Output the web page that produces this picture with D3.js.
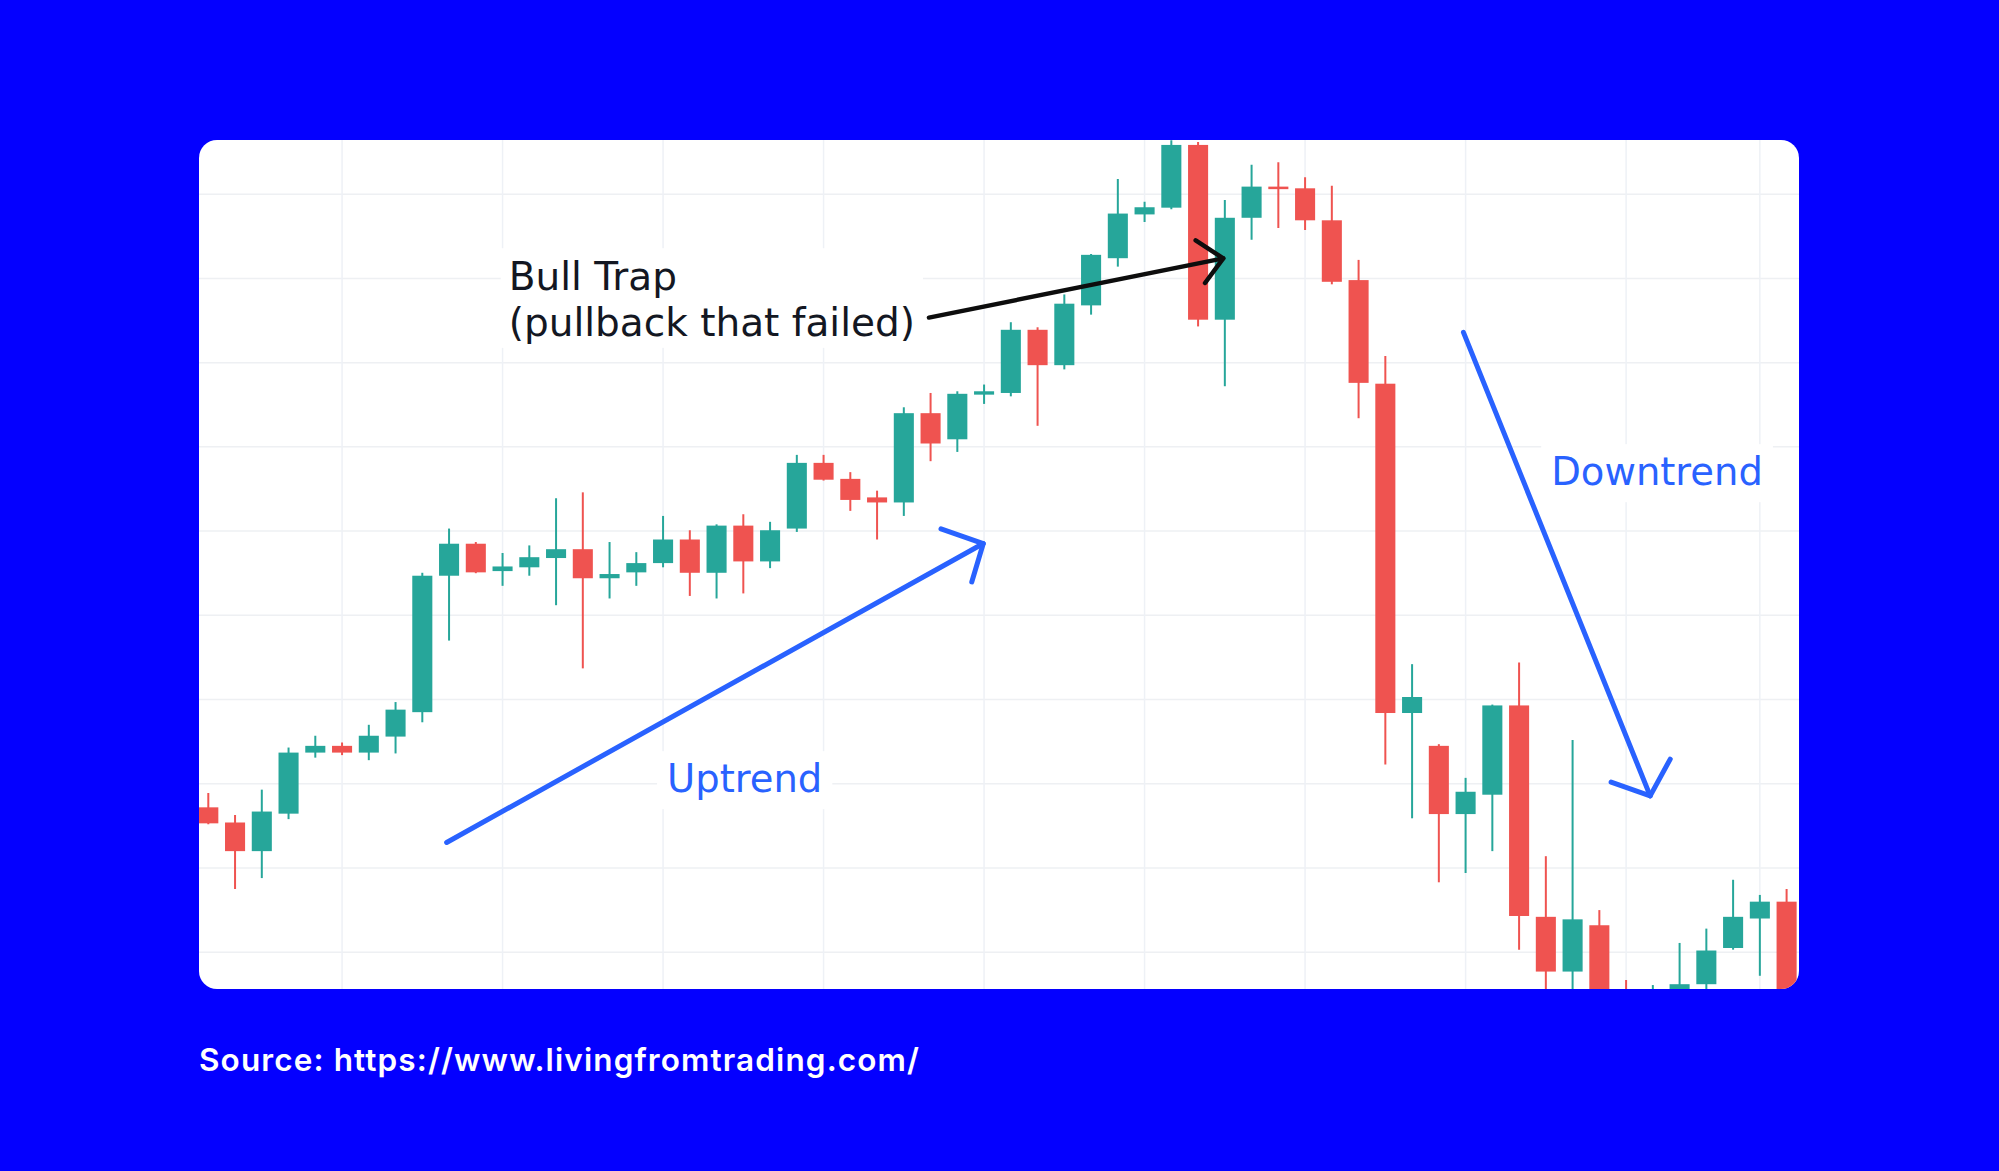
<!DOCTYPE html>
<html>
<head>
<meta charset="utf-8">
<script src="https://cdn.jsdelivr.net/npm/d3@7"></script>
<style>
  html, body { margin: 0; padding: 0; background: #0400ff; }
  svg { display: block; }
</style>
</head>
<body>
<svg id="chart" width="1999" height="1171"></svg>
<script>
// ---------- DATA ----------
const candleIndex = d3.range(60);
const openP  = [117.2,115.4,112.0,116.45,123.7,124.5,123.7,125.6,128.5,144.7,
                148.5,145.25,145.7,146.8,147.85,144.4,145.1,146.2,149.0,145.05,
                150.65,146.4,150.3,158.1,156.2,154.0,153.4,164.0,160.9,166.2,
                166.4,173.9,169.7,176.8,182.4,187.6,188.4,195.85,175.1,187.2,
                190.9,190.7,186.9,179.8,167.5,128.4,124.5,116.4,118.7,129.3,
                104.2,97.7,103.2,95.2,93.8,94.2,96.2,100.5,104.0,106.0];
const highP  = [118.9,116.3,119.3,124.3,125.7,124.9,127.0,129.7,145.05,150.3,
                148.7,147.4,148.3,153.9,154.6,148.7,147.5,151.8,150.1,150.8,
                152.0,151.1,159.05,159.05,157.0,154.8,164.7,166.4,166.6,167.4,
                174.8,174.2,178.1,182.9,191.8,189.1,196.4,196.2,189.3,193.5,
                193.8,192.0,191.0,182.2,170.8,134.2,124.7,120.7,129.4,134.4,
                111.4,125.2,105.0,96.7,96.1,101.1,102.8,108.6,106.8,107.5];
const lowP   = [115.2,107.5,108.8,115.8,123.1,123.4,122.8,123.6,127.3,137.0,
                145.0,143.5,144.7,141.2,133.7,142.0,143.5,145.7,142.3,142.0,
                142.6,145.6,149.9,156.0,152.4,149.0,151.8,158.3,159.4,165.1,
                166.0,162.5,169.2,175.7,181.4,186.7,188.2,174.3,167.2,184.6,
                186.0,185.75,179.3,163.4,122.3,115.9,108.3,109.4,112.0,100.3,
                94.5,94.0,92.0,92.0,93.0,93.5,95.0,100.3,97.2,93.5];
const closeP = [115.3,112.0,116.7,123.7,124.5,123.7,125.7,128.8,144.7,148.5,
                145.1,145.8,146.9,147.85,144.4,144.9,146.2,149.0,145.05,150.65,
                146.4,150.1,158.1,156.1,153.7,153.4,164.0,160.4,166.3,166.6,
                173.9,169.7,177.0,182.8,187.7,188.45,195.85,175.1,187.2,190.9,
                190.6,186.9,179.6,167.6,128.4,130.3,116.4,119.05,129.3,104.3,
                97.7,103.9,93.5,93.0,95.2,96.2,100.2,104.2,106.0,94.0];

const priceGrid = [100,110,120,130,140,150,160,170,180,190];
const timeGrid  = [5,11,17,23,29,35,41,47,53,58];

const bullTrapLines = ["Bull Trap", "(pullback that failed)"];
const upLabel = "Uptrend";
const downLabel = "Downtrend";
const sourceText = "Source: https://www.livingfromtrading.com/";

// annotation anchors in data space: [candle index, price]
const bullTrapAnchor = [11.23, 178.6];
const upLabelAnchor  = [17.15, 119.0];
const downLabelAnchor= [50.2, 155.45];
const bullArrow = {from:[26.94,175.35], tip:[37.94,182.38], arm1:[36.91,184.53], arm2:[37.26,179.46]};
const upArrow   = {from:[8.91,113.03],  tip:[28.97,148.52], arm1:[27.39,150.27], arm2:[28.54,143.96]};
const downArrow = {from:[46.92,173.59], tip:[53.90,118.56], arm1:[52.44,120.19], arm2:[54.65,122.93]};

// ---------- LAYOUT ----------
const W = 1999, H = 1171;
const card = {x: 199, y: 140, w: 1600, h: 849, r: 18};
const GREEN = "#26a69a", RED = "#ef5350", BLUE = "#2962ff", INK = "#131722";

const candles = candleIndex.map(i => ({i, o: openP[i], h: highP[i], l: lowP[i], c: closeP[i]}));

const x = d3.scaleLinear().domain([0, 59]).range([208.3, 1786.6]);
const y = d3.scaleLinear().domain([100, 190]).range([952.2, 194.2]);
const step = x(1) - x(0);
const bodyW = step * 0.75;

const svg = d3.select("#chart");
svg.append("rect").attr("width", W).attr("height", H).attr("fill", "#0400ff");

const defs = svg.append("defs");
defs.append("clipPath").attr("id", "cardClip")
  .append("rect").attr("x", card.x).attr("y", card.y).attr("width", card.w)
  .attr("height", card.h).attr("rx", card.r).attr("ry", card.r);

svg.append("rect").attr("x", card.x).attr("y", card.y).attr("width", card.w)
  .attr("height", card.h).attr("rx", card.r).attr("ry", card.r).attr("fill", "#ffffff");

const g = svg.append("g").attr("clip-path", "url(#cardClip)");

// gridlines
g.append("g").selectAll("line").data(priceGrid).join("line")
  .attr("x1", card.x).attr("x2", card.x + card.w)
  .attr("y1", d => y(d)).attr("y2", d => y(d))
  .attr("stroke", "#eef0f3").attr("stroke-width", 1.5);
g.append("g").selectAll("line").data(timeGrid).join("line")
  .attr("x1", d => x(d)).attr("x2", d => x(d))
  .attr("y1", card.y).attr("y2", card.y + card.h)
  .attr("stroke", "#eef1f6").attr("stroke-width", 1.5);

// candles
const cg = g.append("g");
cg.selectAll("line.wick").data(candles).join("line").attr("class", "wick")
  .attr("x1", d => x(d.i)).attr("x2", d => x(d.i))
  .attr("y1", d => y(d.h)).attr("y2", d => y(d.l))
  .attr("stroke", d => d.c >= d.o ? GREEN : RED).attr("stroke-width", 2);
cg.selectAll("rect.body").data(candles).join("rect").attr("class", "body")
  .attr("x", d => x(d.i) - bodyW / 2).attr("width", bodyW)
  .attr("y", d => y(Math.max(d.o, d.c)))
  .attr("height", d => Math.max(2, Math.abs(y(d.o) - y(d.c))))
  .attr("fill", d => d.c >= d.o ? GREEN : RED);

// labels with white background boxes (one text element per line)
function label(lines, anchor, size, color, padX, padTop, padBot, lineH) {
  const lg = g.append("g");
  const bg = lg.append("rect").attr("fill", "#ffffff");
  const tg = lg.append("g");
  tg.selectAll("text").data(lines).join("text")
    .attr("x", x(anchor[0])).attr("y", (d, i) => y(anchor[1]) + i * size * lineH)
    .attr("font-family", "'DejaVu Sans', Verdana, sans-serif")
    .attr("font-size", size).attr("fill", color)
    .text(d => d);
  const b = tg.node().getBBox();
  bg.attr("x", b.x - padX).attr("y", b.y - padTop)
    .attr("width", b.width + 2 * padX).attr("height", b.height + padTop + padBot);
}
label(bullTrapLines, bullTrapAnchor, 39, INK, 8, 6, 3, 1.17);
label([upLabel], upLabelAnchor, 38.5, BLUE, 10, 5, 8, 1);
label([downLabel], downLabelAnchor, 38.5, BLUE, 10, 5, 8, 1);

// arrows
function arrow(a, color, width) {
  const ag = g.append("g").attr("fill", "none").attr("stroke", color)
    .attr("stroke-width", width).attr("stroke-linecap", "round").attr("stroke-linejoin", "round");
  const P = p => [x(p[0]), y(p[1])];
  ag.append("path").attr("d", d3.line()([P(a.from), P(a.tip)]));
  ag.append("path").attr("d", d3.line()([P(a.arm1), P(a.tip), P(a.arm2)]));
}
arrow(bullArrow, "#0d0d0d", 4.5);
arrow(upArrow, BLUE, 5);
arrow(downArrow, BLUE, 5);

// source line
svg.append("text").attr("x", 199).attr("y", 1071)
  .attr("font-family", "Inter, 'Open Sans', sans-serif").attr("font-weight", 600)
  .attr("font-size", 31.5).attr("fill", "#ffffff")
  .attr("textLength", 720).attr("lengthAdjust", "spacing")
  .text(sourceText);
</script>
</body>
</html>
